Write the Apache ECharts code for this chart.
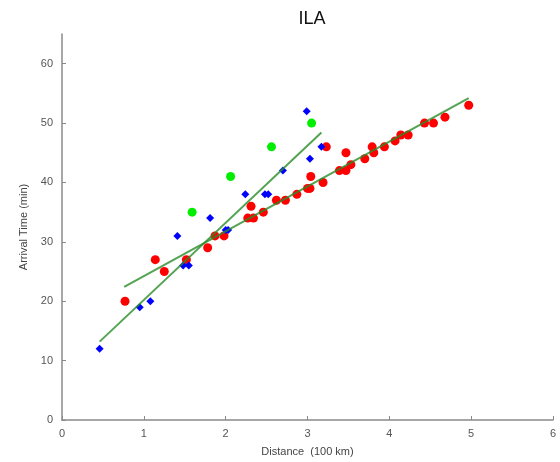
<!DOCTYPE html>
<html><head><meta charset="utf-8">
<script src="https://cdn.jsdelivr.net/npm/echarts@6/dist/echarts.min.js"></script>
<style>html,body{margin:0;padding:0;background:#fff}#c{width:560px;height:462px}</style>
</head><body><div id="c"></div>
<script>
const titleText = 'ILA';
const xTicks = [0, 1, 2, 3, 4, 5, 6];
const yTicks = [0, 10, 20, 30, 40, 50, 60];

const redDist = [0.77,1.14,1.25,1.52,1.78,1.87,1.98,2.27,2.31,2.34,2.46,2.62,2.73,2.87,3.00,3.03,3.04,3.19,3.23,3.39,3.47,3.47,3.53,3.70,3.79,3.81,3.94,4.07,4.14,4.23,4.43,4.54,4.68,4.97];
const redTime = [20,27,25,27,29,31,31,34,36,34,35,37,37,38,39,39,41,40,46,42,42,45,43,44,46,45,46,47,48,48,50,50,51,53];

const blueDist = [0.46,0.95,1.08,1.41,1.48,1.55,1.81,2.00,2.03,2.24,2.48,2.52,2.70,2.99,3.03,3.17];
const blueTime = [12,19,20,31,26,26,34,32,32,38,38,38,42,52,44,46];

const greenDist = [1.59,2.06,2.56,3.05];
const greenTime = [35,41,46,50];

const fitSteepDist = [0.46, 3.17];
const fitSteepTime = [13.2, 48.4];
const fitFlatDist = [0.76, 4.97];
const fitFlatTime = [22.4, 54.2];

const zip = (a, b) => a.map((v, i) => [v, b[i]]);

const chart = echarts.init(document.getElementById('c'), null, {renderer: 'canvas'});
const font = 'Liberation Sans, Arial, sans-serif';
const axisCommon = {
  axisLine: {show: true, lineStyle: {color: '#8a8a8a', width: 1.5}},
  axisTick: {show: true, inside: true, length: 4, lineStyle: {color: '#8a8a8a'}},
  axisLabel: {color: '#555', fontSize: 11, fontFamily: font},
  splitLine: {show: false},
  nameTextStyle: {color: '#444', fontSize: 11, fontFamily: font}
};
chart.setOption({
  animation: false,
  backgroundColor: '#fff',
  title: {
    text: titleText, left: 307, top: 5, textAlign: 'center',
    textStyle: {fontSize: 18, fontWeight: 'normal', color: '#111', fontFamily: font}
  },
  grid: {left: 62, right: 7, top: 34, bottom: 42, containLabel: false},
  xAxis: Object.assign({}, axisCommon, {
    type: 'value', min: xTicks[0], max: xTicks[xTicks.length - 1], interval: 1,
    name: 'Distance  (100 km)', nameLocation: 'middle', nameGap: 26,
    axisLabel: Object.assign({}, axisCommon.axisLabel, {margin: 8})
  }),
  yAxis: Object.assign({}, axisCommon, {
    type: 'value', min: yTicks[0], max: 65, interval: 10,
    name: 'Arrival Time (min)', nameLocation: 'middle', nameGap: 27, nameRotate: 90,
    axisTick: Object.assign({}, axisCommon.axisTick, {customValues: yTicks}),
    axisLabel: Object.assign({}, axisCommon.axisLabel, {margin: 9, customValues: yTicks})
  }),
  series: [
    {type: 'scatter', data: zip(redDist, redTime), symbol: 'circle', symbolSize: 9,
     itemStyle: {color: '#ff0000', opacity: 1}, z: 3},
    {type: 'scatter', data: zip(blueDist, blueTime), symbol: 'diamond', symbolSize: 8,
     itemStyle: {color: '#0000ff', opacity: 1}, z: 3},
    {type: 'scatter', data: zip(greenDist, greenTime), symbol: 'circle', symbolSize: 9,
     itemStyle: {color: '#00ee00', opacity: 1}, z: 3},
    {type: 'line', data: zip(fitSteepDist, fitSteepTime), showSymbol: false, symbol: 'none',
     lineStyle: {color: 'rgba(40,140,40,0.8)', width: 2}, z: 4},
    {type: 'line', data: zip(fitFlatDist, fitFlatTime), showSymbol: false, symbol: 'none',
     lineStyle: {color: 'rgba(40,140,40,0.8)', width: 2}, z: 4}
  ]
});
</script>
</body></html>
